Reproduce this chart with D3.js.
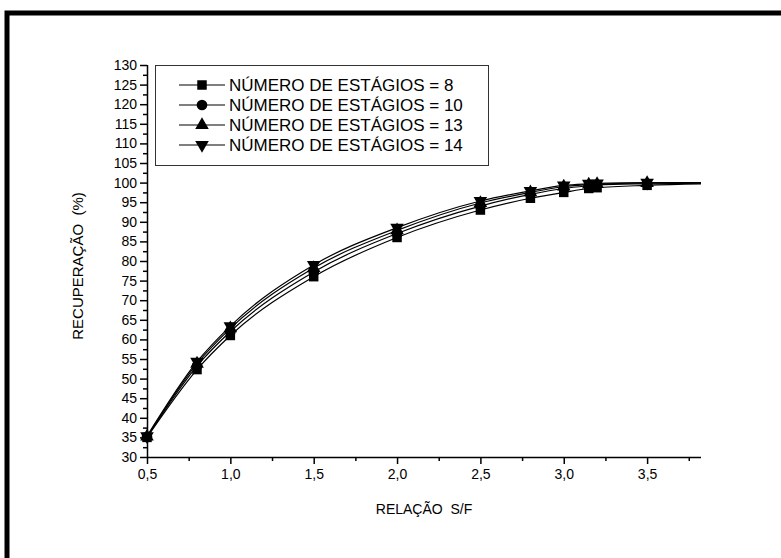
<!DOCTYPE html>
<html><head><meta charset="utf-8">
<script src="https://cdn.jsdelivr.net/npm/d3@7"></script>
<style>
html,body{margin:0;padding:0;background:#fff;}
svg{display:block;font-family:"Liberation Sans",Arial,sans-serif;}
.pre{white-space:pre;}
</style></head>
<body>
<svg id="chart" width="781" height="558"></svg>
<script>
const xValues = [0.5, 0.8, 1.0, 1.5, 2.0, 2.5, 2.8, 3.0, 3.15, 3.2, 3.5, 4.0];
const seriesNames = ["NÚMERO DE ESTÁGIOS = 8", "NÚMERO DE ESTÁGIOS = 10", "NÚMERO DE ESTÁGIOS = 13", "NÚMERO DE ESTÁGIOS = 14"];
const stages8  = [35.0, 52.3, 61.0, 76.0, 86.0, 93.0, 96.0, 97.5, 98.5, 98.7, 99.3, 99.8];
const stages10 = [35.1, 53.2, 62.0, 77.2, 87.0, 94.0, 97.0, 98.5, 99.2, 99.4, 99.7, 99.9];
const stages13 = [35.2, 53.8, 62.8, 78.2, 87.8, 94.8, 97.5, 99.0, 99.5, 99.6, 99.9, 100.0];
const stages14 = [35.3, 54.3, 63.4, 79.0, 88.5, 95.3, 97.9, 99.3, 99.7, 99.8, 100.0, 100.0];
const markerTypes = ["square", "circle", "triangle", "triangleDown"];
const yTicks = d3.range(30, 131, 5);
const xTicks = [0.5, 1.0, 1.5, 2.0, 2.5, 3.0, 3.5];
const xLabel = "RELAÇÃO  S/F";
const yLabel = "RECUPERAÇÃO  (%)";

const seriesValues = [stages8, stages10, stages13, stages14];
const svg = d3.select("#chart");

// frame
svg.append("rect").attr("x", 7).attr("y", 13).attr("width", 800).attr("height", 600)
  .attr("fill", "none").attr("stroke", "#000").attr("stroke-width", 5);

const pL = 147, pR = 701, pT = 65, pB = 457;
const x = d3.scaleLinear().domain([0.5, 0.5 + (pR - pL) / 166.7]).range([pL, pR]);
const y = d3.scaleLinear().domain([30, 130]).range([pB, pT]);

const fmt = d => d3.format(".1f")(d).replace(".", ",");

// x axis
const xAxisG = svg.append("g").attr("transform", `translate(0,${pB})`);
xAxisG.call(d3.axisBottom(x).tickValues(d3.range(0.75, 3.8, 0.5)).tickSize(4).tickFormat(""));
xAxisG.call(g => g.selectAll(".domain").remove());
const xMajor = svg.append("g").attr("transform", `translate(0,${pB})`)
  .call(d3.axisBottom(x).tickValues(xTicks).tickSize(7).tickPadding(5).tickFormat(fmt));
xMajor.select(".domain").attr("d", `M${pL},0.5H${pR}`);
[xAxisG, xMajor].forEach(g => {
  g.selectAll("line").attr("stroke", "#000").attr("stroke-width", 1.5);
  g.selectAll(".domain").attr("stroke", "#000").attr("stroke-width", 1.5);
  g.selectAll("text").attr("font-size", 14).attr("fill", "#000").attr("font-family", "Liberation Sans, Arial, sans-serif");
});

// y axis
const yMinor = svg.append("g").attr("transform", `translate(${pL},0)`)
  .call(d3.axisLeft(y).tickValues(d3.range(32.5, 130, 5)).tickSize(4).tickFormat(""));
yMinor.select(".domain").remove();
const yMajor = svg.append("g").attr("transform", `translate(${pL},0)`)
  .call(d3.axisLeft(y).tickValues(yTicks).tickSize(7).tickPadding(3).tickFormat(d3.format("d")));
yMajor.select(".domain").attr("d", `M0.5,${pB}V${pT}`);
[yMinor, yMajor].forEach(g => {
  g.selectAll("line").attr("stroke", "#000").attr("stroke-width", 1.5);
  g.selectAll(".domain").attr("stroke", "#000").attr("stroke-width", 1.5);
  g.selectAll("text").attr("font-size", 14).attr("fill", "#000").attr("font-family", "Liberation Sans, Arial, sans-serif");
});

// clip
svg.append("clipPath").attr("id", "plotclip").append("rect")
  .attr("x", pL).attr("y", pT - 10).attr("width", pR - pL).attr("height", pB - pT + 10);

const plot = svg.append("g").attr("clip-path", "url(#plotclip)");
const line = d3.line().x(d => x(d[0])).y(d => y(d[1])).curve(d3.curveMonotoneX);

seriesValues.forEach(vals => {
  const pts = xValues.map((xv, i) => [xv, vals[i]]);
  plot.append("path").attr("d", line(pts)).attr("fill", "none").attr("stroke", "#000").attr("stroke-width", 1.2);
});

const symbolOf = t => {
  if (t === "square") return d3.symbol(d3.symbolSquare, 90)();
  if (t === "circle") return d3.symbol(d3.symbolCircle, 90)();
  return d3.symbol(d3.symbolTriangle, 80)();
};

svg.append("clipPath").attr("id", "plotclip2").append("rect")
  .attr("x", pL - 10).attr("y", pT - 10).attr("width", pR - pL + 10).attr("height", pB - pT + 20);
const markG = svg.append("g").attr("clip-path", "url(#plotclip2)");
seriesValues.forEach((vals, si) => {
  xValues.forEach((xv, i) => {
    if (x(xv) > pR) return;
    markG.append("path").attr("d", symbolOf(markerTypes[si]))
      .attr("transform", `translate(${x(xv)},${y(vals[i])})` + (markerTypes[si] === "triangleDown" ? " rotate(180)" : ""))
      .attr("fill", "#000");
  });
});

// legend
const lg = svg.append("g");
lg.append("rect").attr("x", 155.5).attr("y", 65.5).attr("width", 333).attr("height", 100)
  .attr("fill", "#fff").attr("stroke", "#333").attr("stroke-width", 1);
seriesNames.forEach((name, i) => {
  const ly = 85 + i * 20;
  lg.append("line").attr("x1", 179).attr("x2", 225).attr("y1", ly).attr("y2", ly).attr("stroke", "#000").attr("stroke-width", 1.2);
  lg.append("path").attr("d", symbolOf(markerTypes[i]))
    .attr("transform", `translate(202,${ly})` + (markerTypes[i] === "triangleDown" ? " rotate(180)" : ""))
    .attr("fill", "#000");
  lg.append("text").attr("x", 229).attr("y", ly).attr("dy", "0.36em")
    .attr("font-size", 17).attr("fill", "#000").text(name);
});

// axis labels
svg.append("text").attr("class", "pre").attr("x", 424).attr("y", 514).attr("text-anchor", "middle")
  .attr("font-size", 14).attr("fill", "#000").text(xLabel);
svg.append("text").attr("class", "pre").attr("transform", "translate(83,266) rotate(-90)").attr("text-anchor", "middle")
  .attr("font-size", 15).attr("fill", "#000").text(yLabel);
</script>
</body></html>
